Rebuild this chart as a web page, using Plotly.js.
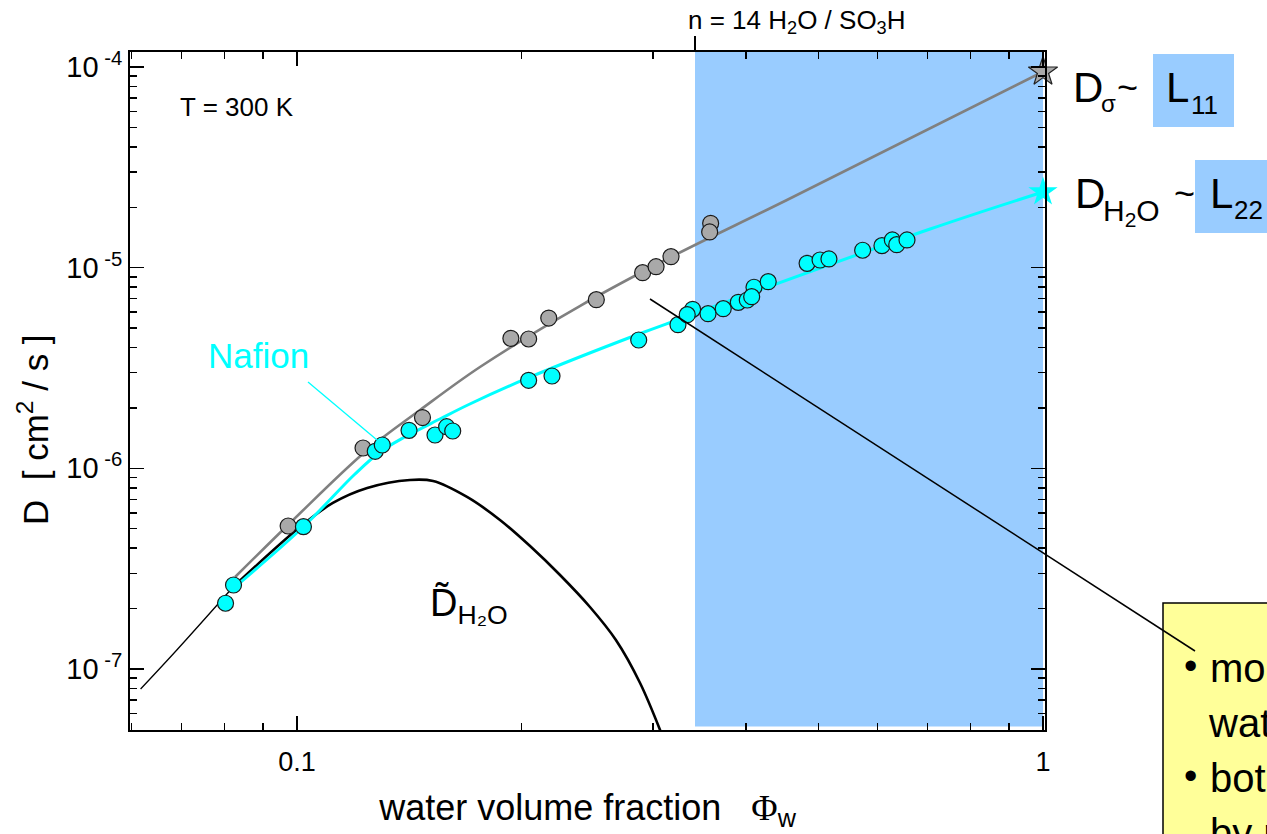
<!DOCTYPE html>
<html>
<head>
<meta charset="utf-8">
<script src="https://cdn.plot.ly/plotly-3.0.1.min.js"></script>
<style>html,body{margin:0;padding:0;background:#fff;}#chart{width:1267px;height:834px;}</style>
</head>
<body>
<div id="chart"></div>
<script>
// ---- measured data (water volume fraction, D in cm^2/s) ----
const grayX = [0.0973,0.1226,0.1473,0.1935,0.2044,0.2175,0.2519,0.2906,0.3029,0.3172,0.3585,0.3574];
const grayY = [5.16e-7,1.263e-6,1.791e-6,4.446e-6,4.41e-6,5.61e-6,6.925e-6,9.44e-6,1.011e-5,1.134e-5,1.664e-5,1.506e-5];

const cyanX = [0.0802,0.0822,0.1020,0.1273,0.1301,0.1413,0.1531,0.1587,0.1617,0.2044,0.2197,0.2871,0.3241,0.3391,0.3335,0.3556,0.3727,0.3904,0.4098,0.4014,0.4069,0.4282,0.4828,0.5025,0.5165,0.5731,0.6083,0.6281,0.6367,0.6572];
const cyanY = [2.126e-7,2.622e-7,5.12e-7,1.216e-6,1.307e-6,1.547e-6,1.466e-6,1.612e-6,1.535e-6,2.746e-6,2.885e-6,4.36e-6,5.197e-6,6.2e-6,5.83e-6,5.897e-6,6.245e-6,6.72e-6,7.985e-6,6.9e-6,7.166e-6,8.514e-6,1.051e-5,1.092e-5,1.105e-5,1.221e-5,1.287e-5,1.374e-5,1.302e-5,1.374e-5];

// limiting values at pure water (stars)
const sigmaStarX = [1.0];
const sigmaStarY = [9.47e-5];
const waterStarX = [1.0];
const waterStarY = [2.383e-5];

// fitted curves
const grayFitX = [0.0826,0.0988,0.1242,0.1462,0.1759,0.2394,0.3172,0.4537,1.0];
const grayFitY = [2.873e-7,5.53e-7,1.234e-6,1.953e-6,3.2e-6,6.44e-6,1.13e-5,2.174e-5,9.47e-5];

const cyanFitX = [0.0811,0.1019,0.1196,0.1292,0.1395,0.1554,0.1705,0.2040,0.2873,0.3261,0.7058,1.0];
const cyanFitY = [2.42e-7,5.1e-7,9.37e-7,1.206e-6,1.433e-6,1.761e-6,2.092e-6,2.82e-6,4.67e-6,5.55e-6,1.558e-5,2.383e-5];

// D~_H2O curve (thin extrapolation + main curve)
const tildeThinX = [0.0617,0.0690,0.0821];
const tildeThinY = [7.95e-8,1.244e-7,2.563e-7];
const tildeX = [0.0821,0.1009,0.1117,0.1242,0.1417,0.1522,0.1690,0.1871,0.2053,0.2252,0.2470,0.2676,0.2883,0.3104];
const tildeY = [2.563e-7,5.1e-7,6.72e-7,7.98e-7,8.745e-7,8.645e-7,7.2e-7,5.53e-7,4.1e-7,2.94e-7,2.037e-7,1.395e-7,8.515e-8,4.43e-8];

// n = 14 H2O/SO3H boundary
const n14X = 0.3416;

// ticks
const xTickVals = [0.1, 1];
const xTickText = ['0.1', '1'];
const xMinorVals = [0.06,0.07,0.08,0.09,0.2,0.3,0.4,0.5,0.6,0.7,0.8,0.9];
const yTickVals = [1e-7, 1e-6, 1e-5, 1e-4];
const yTickText = ['10<sup> -7</sup>','10<sup> -6</sup>','10<sup> -5</sup>','10<sup> -4</sup>'];
const yMinorVals = [5e-8,6e-8,7e-8,8e-8,9e-8,2e-7,3e-7,4e-7,5e-7,6e-7,7e-7,8e-7,9e-7,2e-6,3e-6,4e-6,5e-6,6e-6,7e-6,8e-6,9e-6,2e-5,3e-5,4e-5,5e-5,6e-5,7e-5,8e-5,9e-5];

const FONT = 'Liberation Sans, Arial, sans-serif';
const CYAN = '#00FFFF';
const GRAY = '#A9A9A9';
const BLUE = '#99CCFF';

const traces = [
  {x: tildeThinX, y: tildeThinY, mode:'lines', line:{color:'black', width:1.3, shape:'spline'}, hoverinfo:'skip'},
  {x: tildeX, y: tildeY, mode:'lines', line:{color:'black', width:2.6, shape:'spline', smoothing:1}, hoverinfo:'skip'},
  {x: grayFitX, y: grayFitY, mode:'lines', line:{color:'#808080', width:2.6, shape:'spline', smoothing:1}},
  {x: cyanFitX, y: cyanFitY, mode:'lines', line:{color:CYAN, width:3, shape:'spline', smoothing:1}},
  {x: grayX, y: grayY, mode:'markers', marker:{size:16, color:GRAY, line:{color:'#1a1a1a', width:1.2}}},
  {x: cyanX, y: cyanY, mode:'markers', marker:{size:16, color:CYAN, line:{color:'#1a1a1a', width:1.2}}},
  {x: sigmaStarX, y: sigmaStarY, mode:'markers', cliponaxis:false, marker:{symbol:'star', size:22, color:GRAY, line:{color:'#222', width:1.2}}},
  {x: waterStarX, y: waterStarY, mode:'markers', cliponaxis:false, marker:{symbol:'star', size:22, color:CYAN, line:{width:0}}}
];

const px = v => (v - 130) / 915;   // pixel -> paper x
const py = v => (730 - v) / 678;   // pixel -> paper y

const shapes = [
  {type:'rect', xref:'x', yref:'paper', x0:n14X, x1:1.0, y0:0.005, y1:1, fillcolor:BLUE, line:{width:0}, layer:'below'},
  {type:'line', xref:'x', yref:'paper', x0:n14X, x1:n14X, y0:1, y1:py(36), line:{color:'black', width:2}},
  {type:'rect', xref:'paper', yref:'paper', x0:px(1153), x1:px(1234), y0:py(127), y1:py(54), fillcolor:BLUE, line:{width:0}},
  {type:'rect', xref:'paper', yref:'paper', x0:px(1195), x1:px(1300), y0:py(233), y1:py(160), fillcolor:BLUE, line:{width:0}},
  {type:'line', xref:'paper', yref:'paper', x0:px(308), y0:py(382), x1:px(377), y1:py(440), line:{color:CYAN, width:1.3}},
  {type:'rect', xref:'paper', yref:'paper', x0:px(1163), x1:px(1320), y0:py(870), y1:py(603), fillcolor:'#FFFF99', line:{color:'black', width:1.5}},
  {type:'line', xref:'paper', yref:'paper', x0:px(650), y0:py(299), x1:px(1195), y1:py(651), line:{color:'black', width:1.5}}
];

function ann(text, x, y, size, opts) {
  return Object.assign({text:text, xref:'paper', yref:'paper', x:px(x), y:py(y), xanchor:'left', yanchor:'middle', showarrow:false, font:{family:FONT, size:size, color:'black'}}, opts || {});
}

const annotations = [
  ann('D\u00a0\u00a0[ cm<sup>2</sup> / s ]', 33, 430, 35, {xanchor:'center', textangle:-90}),
  ann('n = 14 H<sub>2</sub>O / SO<sub>3</sub>H', 686, 22, 26),
  ann('T = 300 K', 178, 107, 26),
  ann('Nafion', 206, 355, 35, {font:{family:FONT, size:35, color:CYAN}}),
  ann('D\u0303<sub>H\u2082O</sub>', 428, 606, 38),
  ann('D', 1071, 88, 42),
  ann('σ', 1099, 104, 24),
  ann('~', 1115, 88, 36),
  ann('L', 1164, 88, 42),
  ann('11', 1189, 105, 26),
  ann('D', 1073, 193, 42),
  ann('H<sub>2</sub>O', 1101, 213, 30),
  ann('~', 1172, 193, 36),
  ann('L', 1208, 193, 42),
  ann('22', 1232, 210, 26),
  ann('•', 1182, 666, 38),
  ann('mo', 1208, 668, 40),
  ann('wat', 1206, 723, 40),
  ann('•', 1182, 776, 38),
  ann('bot', 1208, 778, 40),
  ann('by r', 1208, 833, 40)
];

const NB = '\u00a0';
const layout = {
  width:1267, height:834,
  margin:{l:130, r:222, t:52, b:104},
  paper_bgcolor:'white', plot_bgcolor:'white',
  showlegend:false,
  font:{family:FONT, color:'black'},
  xaxis:{
    type:'log', range:[-1.2239, 0.0027],
    tickmode:'array', tickvals:xTickVals, ticktext:xTickText,
    ticks:'inside', ticklen:14, tickwidth:1.5, tickcolor:'black',
    minor:{tickmode:'array', tickvals:xMinorVals, ticks:'inside', ticklen:7, tickwidth:1.5, tickcolor:'black', showgrid:false},
    showline:true, linewidth:2, linecolor:'black', mirror:'ticks',
    showgrid:false, zeroline:false,
    tickfont:{family:FONT, size:27, color:'black'},
    ticklabelstandoff:7,
    title:{text:'water volume fraction' + NB+NB+NB + '<span style="font-family:Liberation Serif">Φ</span><sub>w</sub>', font:{family:FONT, size:36, color:'black'}, standoff:18}
  },
  yaxis:{
    type:'log', range:[-7.304, -3.9253],
    tickmode:'array', tickvals:yTickVals, ticktext:yTickText,
    ticks:'inside', ticklen:14, tickwidth:1.5, tickcolor:'black',
    minor:{tickmode:'array', tickvals:yMinorVals, ticks:'inside', ticklen:7, tickwidth:1.5, tickcolor:'black', showgrid:false},
    showline:true, linewidth:2, linecolor:'black', mirror:'ticks',
    showgrid:false, zeroline:false,
    tickfont:{family:FONT, size:29, color:'black'}
  },
  shapes:shapes,
  annotations:annotations
};

Plotly.newPlot('chart', traces, layout, {staticPlot:true, displayModeBar:false});
</script>
</body>
</html>
